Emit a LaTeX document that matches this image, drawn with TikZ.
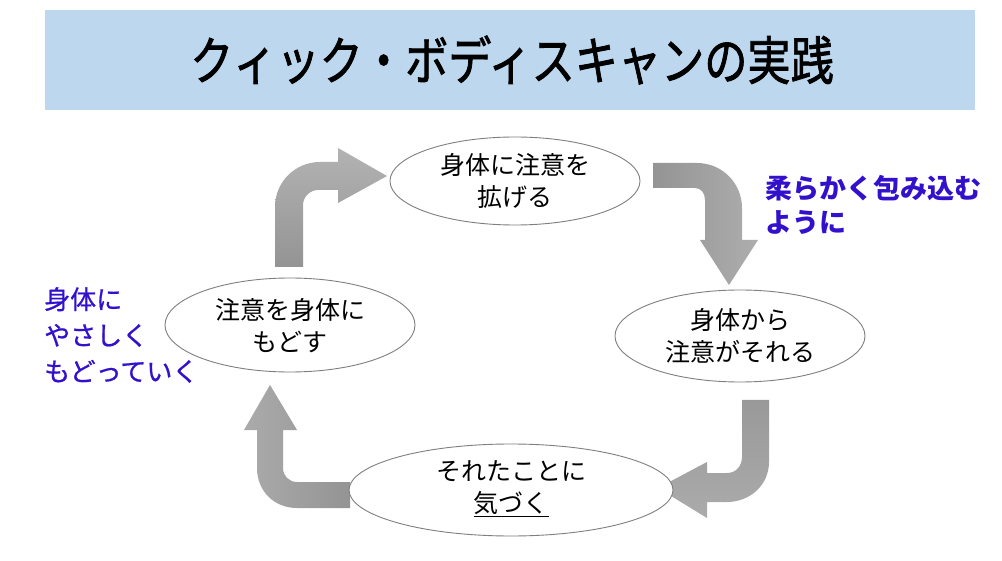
\documentclass[tikz,border=0pt]{standalone}
\usepackage{fontspec}
\newfontfamily\jp{Noto Sans CJK JP}
\newfontfamily\jptitle[FakeBold=1.6]{Noto Sans CJK JP}
\newfontfamily\jpsemi[FakeBold=0.8]{Noto Sans CJK JP}
\usepackage{graphicx}
\definecolor{titlebg}{HTML}{BDD7EE}
\definecolor{bluetxt}{HTML}{3311CC}
\definecolor{ellline}{HTML}{7F7F7F}
\begin{document}
\begin{tikzpicture}[x=1pt,y=-1pt,
  oval/.style={draw=ellline, line width=0.9pt, fill=white},
  ovaltext/.style={font=\jp\fontsize{25}{32}\selectfont, align=center, text=black},
  bluebold/.style={font=\jp\bfseries\fontsize{27}{34}\selectfont, align=left, text=bluetxt, anchor=west, inner sep=0pt},
  bluereg/.style={font=\jpsemi\fontsize{26}{36}\selectfont, align=left, text=bluetxt, anchor=west, inner sep=0pt},
  arr/.style={draw=none}
]
\useasboundingbox (0,0) rectangle (1002,561);
\fill[white] (0,0) rectangle (1002,561);
% title bar
\node[fill=titlebg, minimum width=930pt, minimum height=100pt, inner sep=0pt] (title) at (510,60) {};
\node[font=\jptitle\fontsize{52}{60}\selectfont, inner sep=0pt] (titletext) at (512,60) {\scalebox{0.83}[1]{クィック・ボディスキャンの実践}};

% arrows
\path[arr, top color=black!30, bottom color=black!42]
 (275,267) -- (275,207) .. controls (275,182) and (295,162) .. (320,162) -- (338,162) -- (338,148) -- (387,176) -- (338,203) -- (338,190) -- (318,190) .. controls (310,190) and (303,197) .. (303,205) -- (303,267) -- cycle;
\path[arr, left color=black!42, right color=black!32]
 (653,163) -- (697,163) .. controls (722,163) and (742,183) .. (742,208) -- (742,240) -- (758,240) -- (729,285) -- (700,240) -- (705,240) -- (705,200) .. controls (705,193) and (701,188) .. (695,188) -- (653,188) -- cycle;
\path[arr, top color=black!40, bottom color=black!33]
 (742,400) -- (769,400) -- (769,462) .. controls (769,485) and (750,502) .. (727,502) -- (707,502) -- (707,518) -- (658,488) -- (707,462) -- (707,473) -- (727,473) .. controls (736,473) and (742,466) .. (742,457) -- cycle;
\path[arr, left color=black!33, right color=black!42]
 (350,508) -- (297,508) .. controls (274,508) and (257,491) .. (257,468) -- (257,430) -- (244,430) -- (270,385) -- (297,430) -- (283,430) -- (283,468) .. controls (283,476) and (289,482) .. (297,482) -- (350,482) -- cycle;

% ellipses
\draw[oval] (515,181) ellipse [x radius=125, y radius=44];
\draw[oval] (740,336) ellipse [x radius=125, y radius=46];
\draw[oval] (511,490) ellipse [x radius=162, y radius=46];
\draw[oval] (290,325) ellipse [x radius=125, y radius=47];

\node[ovaltext] (top) at (515,181) {身体に注意を\\拡げる};
\node[ovaltext] (right) at (740,336) {身体から\\注意がそれる};
\node[ovaltext] (bottom) at (511,489) {それたことに\\\underline{気づく}};
\node[ovaltext] (left) at (290,326) {注意を身体に\\もどす};

% blue labels
\node[bluebold] (lab1) at (765,205) {柔らかく包み込む\\ように};
\node[bluereg] (lab2) at (44,335) {身体に\\やさしく\\もどっていく};
\end{tikzpicture}
\end{document}
